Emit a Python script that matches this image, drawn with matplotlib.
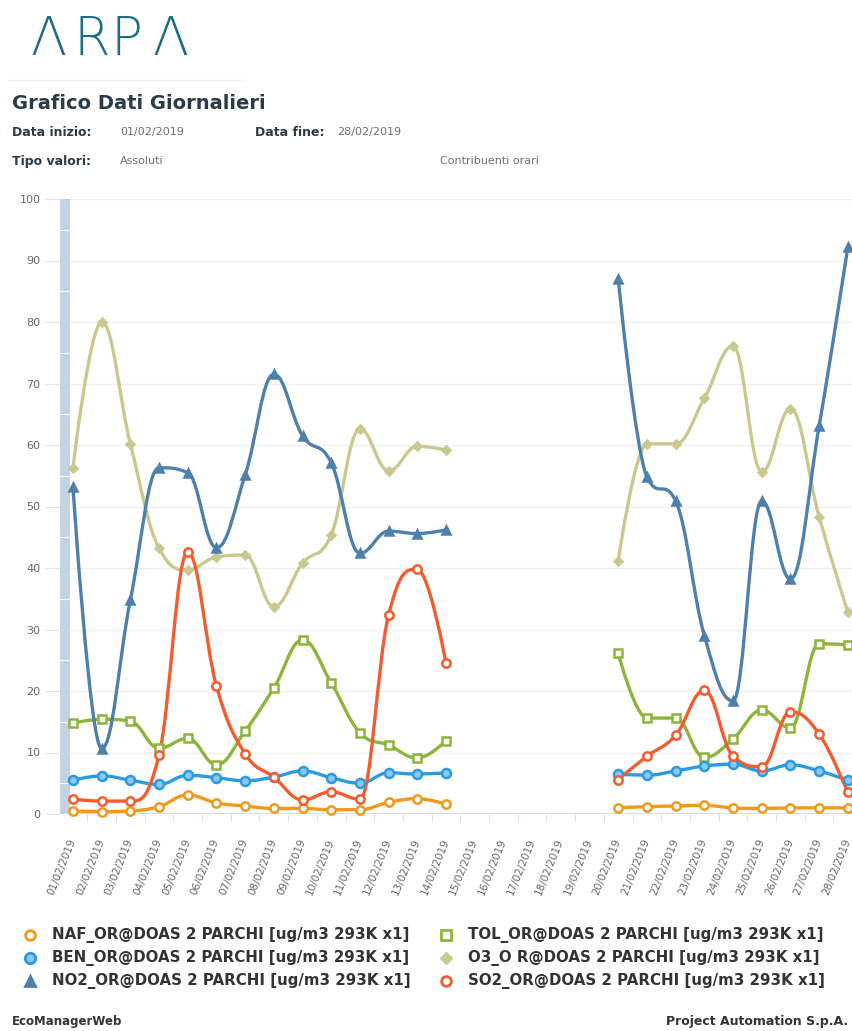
import numpy as np
import matplotlib
matplotlib.use("Agg")
import matplotlib.pyplot as plt
from matplotlib.path import Path
from matplotlib.patches import PathPatch, Rectangle
from matplotlib.lines import Line2D

# giorni di febbraio 2019 (categorie)
days = [f"{d:02d}/02/2019" for d in range(1, 29)]

# valori giornalieri (None = dato mancante)
naf = [0.5, 0.4, 0.5, 1.2, 3.1, 1.8, 1.3, 0.9, 0.9, 0.7, 0.7, 1.9, 2.5, 1.6,
       None, None, None, None, None,
       1.0, 1.2, 1.3, 1.4, 1.0, 0.9, 1.0, 1.0, 1.0]
tol = [14.8, 15.4, 15.1, 10.7, 12.3, 8.0, 13.5, 20.5, 28.3, 21.3, 13.2, 11.2, 9.1, 11.9,
       None, None, None, None, None,
       26.1, 15.6, 15.6, 9.2, 12.2, 16.9, 14.0, 27.7, 27.5]
ben = [5.5, 6.2, 5.5, 4.8, 6.3, 5.9, 5.4, 6.0, 7.0, 5.9, 5.0, 6.7, 6.5, 6.7,
       None, None, None, None, None,
       6.5, 6.3, 7.0, 7.8, 8.1, 7.0, 8.0, 7.0, 5.5]
o3 = [56.3, 80.0, 60.2, 43.2, 39.7, 41.8, 42.1, 33.7, 40.8, 45.4, 62.6, 55.8, 59.8, 59.2,
      None, None, None, None, None,
      41.2, 60.2, 60.2, 67.6, 76.1, 55.6, 65.9, 48.3, 32.8]
no2 = [53.2, 10.6, 34.8, 56.3, 55.5, 43.3, 55.1, 71.5, 61.5, 57.1, 42.4, 46.0, 45.6, 46.2,
       None, None, None, None, None,
       87.0, 54.8, 50.9, 29.0, 18.4, 50.9, 38.2, 63.1, 92.2]
so2 = [2.4, 2.1, 2.1, 9.6, 42.6, 20.8, 9.8, 6.0, 2.3, 3.6, 2.4, 32.4, 39.8, 24.5,
       None, None, None, None, None,
       5.6, 9.4, 12.8, 20.1, 9.4, 7.7, 16.6, 13.0, 3.5]

labels = ["NAF_OR@DOAS 2 PARCHI [ug/m3 293K x1]",
          "TOL_OR@DOAS 2 PARCHI [ug/m3 293K x1]",
          "BEN_OR@DOAS 2 PARCHI [ug/m3 293K x1]",
          "O3_O R@DOAS 2 PARCHI [ug/m3 293K x1]",
          "NO2_OR@DOAS 2 PARCHI [ug/m3 293K x1]",
          "SO2_OR@DOAS 2 PARCHI [ug/m3 293K x1]"]

# stile: colore, marker, colore interno marker, dimensione
styles = [
    ("#ef9a1f", "o", "white", 6),
    ("#8db43b", "s", "white", 6),
    ("#2a9be3", "o", "#8cc8f2", 6.5),
    ("#c9c98f", "D", "#c9c98f", 4.5),
    ("#4f80ab", "^", "#4f80ab", 6),
    ("#f45b2f", "o", "white", 6),
]
series = [naf, tol, ben, o3, no2, so2]


def spline_path(xs, ys, smoothing=1.5):
    # curva tipo Highcharts "spline" (bezier cubiche)
    n = len(xs)
    verts = [(xs[0], ys[0])]
    codes = [Path.MOVETO]
    lc = [None] * n
    rc = [None] * n
    denom = smoothing + 1
    for i in range(1, n - 1):
        lx, ly = xs[i - 1], ys[i - 1]
        nx, ny = xs[i + 1], ys[i + 1]
        x, y = xs[i], ys[i]
        lcx = (smoothing * x + lx) / denom
        lcy = (smoothing * y + ly) / denom
        rcx = (smoothing * x + nx) / denom
        rcy = (smoothing * y + ny) / denom
        corr = ((rcy - lcy) * (rcx - x)) / (rcx - lcx) + y - rcy
        lcy += corr
        rcy += corr
        if lcy > ly and lcy > y:
            lcy = max(ly, y)
            rcy = 2 * y - lcy
        elif lcy < ly and lcy < y:
            lcy = min(ly, y)
            rcy = 2 * y - lcy
        if rcy > ny and rcy > y:
            rcy = max(ny, y)
            lcy = 2 * y - rcy
        elif rcy < ny and rcy < y:
            rcy = min(ny, y)
            lcy = 2 * y - rcy
        lc[i] = (lcx, lcy)
        rc[i] = (rcx, rcy)
    for i in range(1, n):
        c1 = rc[i - 1] if rc[i - 1] else (xs[i - 1], ys[i - 1])
        c2 = lc[i] if lc[i] else (xs[i], ys[i])
        verts += [c1, c2, (xs[i], ys[i])]
        codes += [Path.CURVE4] * 3
    return Path(verts, codes)


W, H = 853, 1031
fig = plt.figure(figsize=(W / 100, H / 100), dpi=100)
fig.patch.set_facecolor("white")

def fx(px):
    return px / W

def fy(py):
    return 1 - py / H

# area grafico (il lato destro esce dall'immagine, come nell'originale)
x_left = 58.6
step = 28.7
ax = fig.add_axes([fx(x_left), fy(814), (28 * step) / W, (814 - 199) / H])
ax.set_xlim(-0.5, 27.5)
ax.set_ylim(0, 100)
ax.set_facecolor("none")
for s in ax.spines.values():
    s.set_visible(False)

for v in range(10, 101, 10):
    ax.axhline(v, color="#f0f0f0", lw=1, zorder=0)
ax.axhline(0, color="#ccd6eb", lw=1.2, zorder=1)

# barra verticale a sinistra
ax.add_patch(Rectangle((-0.45, 0), 0.35, 100, facecolor="#c4d3e3",
                       edgecolor="none", zorder=1))
for v in range(5, 100, 10):
    ax.plot([-0.45, -0.1], [v, v], color="white", lw=0.8, zorder=1.5)

ax.set_yticks(range(0, 101, 10))
ax.set_yticklabels([str(v) for v in range(0, 101, 10)], color="#666666",
                   fontsize=8)
ax.tick_params(axis="y", length=10, color="#e6e6e6", pad=3)

ax.set_xticks(np.arange(28) + 0.5, minor=True)
ax.set_xticks(np.arange(28))
ax.set_xticklabels(days, rotation=68, ha="right", va="center",
                   rotation_mode="anchor", fontsize=7.5, color="#666666")
ax.tick_params(axis="x", which="major", length=0, pad=18)
ax.tick_params(axis="x", which="minor", length=5, color="#ccd6eb")

xs_all = np.arange(28)
for vals, (col, mk, fc, ms) in zip(series, styles):
    seg_x, seg_y = [], []
    segs = []
    for xv, yv in zip(xs_all, vals):
        if yv is None:
            if seg_x:
                segs.append((seg_x, seg_y))
            seg_x, seg_y = [], []
        else:
            seg_x.append(float(xv))
            seg_y.append(float(yv))
    if seg_x:
        segs.append((seg_x, seg_y))
    for sx, sy in segs:
        ax.add_patch(PathPatch(spline_path(sx, sy), facecolor="none",
                               edgecolor=col, lw=2.4, capstyle="round",
                               joinstyle="round", zorder=3))
        ax.plot(sx, sy, linestyle="none", marker=mk, markersize=ms,
                markerfacecolor=fc, markeredgecolor=col, markeredgewidth=1.8,
                zorder=4, clip_on=False)

# intestazione
fig.add_artist(Line2D([fx(8), fx(243)], [fy(80), fy(80)], color="#f2f2f2",
                      lw=1, transform=fig.transFigure))
for ch, cx in zip("ΛRPΛ", [48, 92, 126, 170]):
    fig.text(fx(cx), fy(55), ch, fontsize=38, color="#1d6e84",
             fontweight="light", family="DejaVu Sans", va="baseline",
             ha="center")
dark = "#2b3b47"
grey = "#6f6f6f"
fig.text(fx(12), fy(103), "Grafico Dati Giornalieri", fontsize=14,
         fontweight="bold", color=dark, va="center")
fig.text(fx(12), fy(132), "Data inizio:", fontsize=9, fontweight="bold",
         color=dark, va="center")
fig.text(fx(120), fy(132), "01/02/2019", fontsize=8, color=grey, va="center")
fig.text(fx(255), fy(132), "Data fine:", fontsize=9, fontweight="bold",
         color=dark, va="center")
fig.text(fx(337), fy(132), "28/02/2019", fontsize=8, color=grey, va="center")
fig.text(fx(12), fy(161), "Tipo valori:", fontsize=9, fontweight="bold",
         color=dark, va="center")
fig.text(fx(120), fy(161), "Assoluti", fontsize=8, color=grey, va="center")
fig.text(fx(440), fy(161), "Contribuenti orari", fontsize=8, color=grey,
         va="center")

# legenda
leg_x = [30, 446]
leg_y = [935, 958, 981]
for k, (lab, (col, mk, fc, ms)) in enumerate(zip(labels, styles)):
    r, c = divmod(k, 2)
    fig.add_artist(Line2D([fx(leg_x[c])], [fy(leg_y[r])], marker=mk,
                          markersize=ms + 1, markerfacecolor=fc,
                          markeredgecolor=col, markeredgewidth=2,
                          transform=fig.transFigure))
    fig.text(fx(leg_x[c] + 22), fy(leg_y[r]), lab, fontsize=10.8,
             fontweight="bold", color="#333333", va="center")

fig.text(fx(12), fy(1022), "EcoManagerWeb", fontsize=8.5, fontweight="bold",
         color="#333333", va="center")
fig.text(fx(848), fy(1022), "Project Automation S.p.A.", fontsize=9,
         fontweight="bold", color="#333333", va="center", ha="right")

fig.savefig("out.png", dpi=100)
